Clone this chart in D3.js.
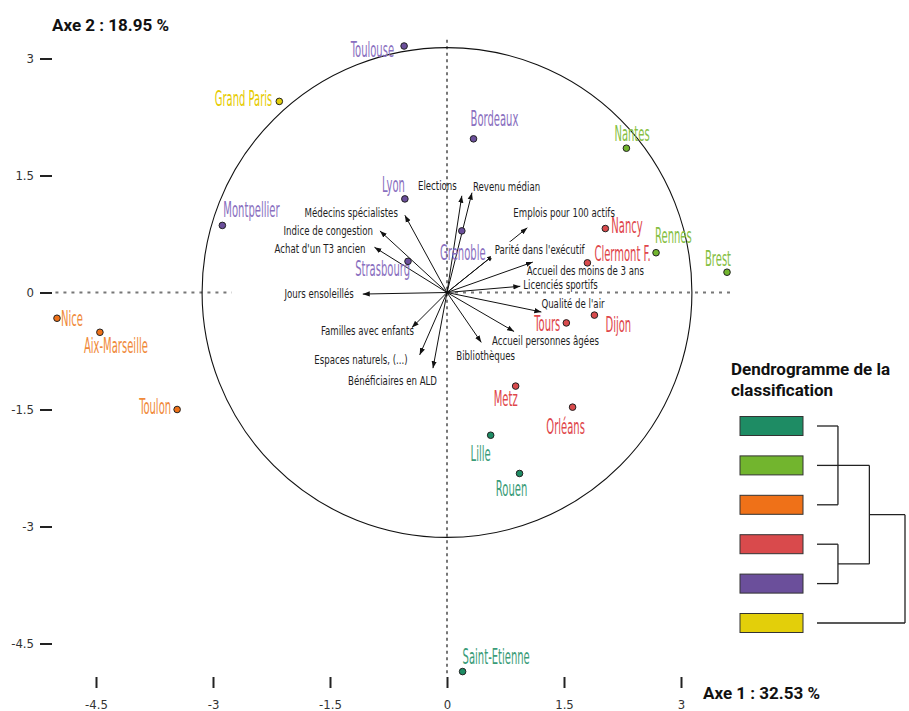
<!DOCTYPE html>
<html>
<head>
<meta charset="utf-8">
<script src="https://cdn.jsdelivr.net/npm/d3@7"></script>
<style>
  body { margin: 0; background: #fff; }
  svg { display: block; }
</style>
</head>
<body>
<svg id="chart" width="909" height="711"></svg>
<script>
// ---- Data -------------------------------------------------------------
// Cities projected on the first factorial plane and their cluster (0..5)
const cityNames = ["Toulouse", "Grand Paris", "Montpellier", "Lyon", "Bordeaux", "Nantes",
  "Nancy", "Rennes", "Clermont F.", "Brest", "Grenoble", "Strasbourg", "Tours", "Dijon",
  "Metz", "Orléans", "Lille", "Rouen", "Saint-Etienne", "Nice", "Aix-Marseille", "Toulon"];
const cityAxis1 = [-0.55, -2.15, -2.88, -0.54, 0.34, 2.30, 2.03, 2.68, 1.80, 3.59, 0.19,
  -0.50, 1.53, 1.89, 0.88, 1.61, 0.56, 0.93, 0.20, -5.00, -4.45, -3.46];
const cityAxis2 = [3.16, 2.45, 0.86, 1.20, 1.97, 1.85, 0.82, 0.51, 0.38, 0.26, 0.79,
  0.40, -0.39, -0.29, -1.20, -1.47, -1.83, -2.32, -4.86, -0.33, -0.51, -1.50];
const cityCluster = [4, 5, 4, 4, 4, 1, 3, 1, 3, 1, 4, 4, 3, 3, 3, 3, 0, 0, 0, 2, 2, 2];

// Active variables (scaled loadings) drawn as arrows
const varNames = ["Elections", "Revenu médian", "Emplois pour 100 actifs", "Parité dans l'exécutif",
  "Accueil des moins de 3 ans", "Licenciés sportifs", "Qualité de l'air", "Accueil personnes âgées",
  "Bibliothèques", "Bénéficiaires en ALD", "Espaces naturels, (...)", "Familles avec enfants",
  "Jours ensoleillés", "Achat d'un T3 ancien", "Indice de congestion", "Médecins spécialistes"];
const varAxis1 = [0.19, 0.32, 1.03, 0.60, 1.10, 0.94, 1.21, 0.86, 0.44, -0.18, -0.35, -0.45,
  -1.08, -0.93, -0.86, -0.54];
const varAxis2 = [1.24, 1.28, 0.83, 0.48, 0.39, 0.08, -0.25, -0.50, -0.64, -0.97, -0.80, -0.45,
  -0.02, 0.58, 0.79, 0.99];

// Correlation circle radius (in axis units)
const circleRadius = 3.14;

// Axis ticks and titles
const axisTicks = [-4.5, -3, -1.5, 0, 1.5, 3];
const axis1Title = "Axe 1 : 32.53 %";
const axis2Title = "Axe 2 : 18.95 %";

// Hierarchical clustering: leaves are the 6 clusters, internal nodes merge them
const dendroTitle = ["Dendrogramme de la", "classification"];
const dendroLeaves = [0, 1, 2, 3, 4, 5];
const dendroMerges = [
  { id: 6, children: [0, 1, 2], height: 1.0 },
  { id: 7, children: [3, 4], height: 1.0 },
  { id: 8, children: [6, 7], height: 2.5 },
  { id: 9, children: [8, 5], height: 4.2 }
];

// ---- Styles -----------------------------------------------------------
const dotColors = ["#1e8c64", "#72b52e", "#ef7118", "#d94a4c", "#6b4f9b", "#e3cf0a"];
const labelColors = ["#3a9c78", "#86c043", "#f08a3a", "#e0464b", "#8a70c0", "#e6cb00"];

// Label placement around each mark: [anchor, dx, dy] in pixels
const cityLabelPos = {
  "Toulouse": ["end", -10, 3], "Grand Paris": ["end", -7, -3], "Montpellier": ["start", 1, -16],
  "Lyon": ["end", 0, -14], "Bordeaux": ["start", -3, -20], "Nantes": ["start", -12, -15],
  "Nancy": ["start", 6, -3], "Rennes": ["start", -1, -17], "Clermont F.": ["start", 7, -9],
  "Brest": ["end", 4, -14], "Grenoble": ["middle", 1, 22], "Strasbourg": ["end", 2, 7],
  "Tours": ["end", -6, 1], "Dijon": ["start", 11, 9], "Metz": ["end", 2, 12],
  "Orléans": ["middle", -7, 19], "Lille": ["end", 0, 18], "Rouen": ["middle", -8, 15],
  "Saint-Etienne": ["start", 0, -15], "Nice": ["start", 4, 0], "Aix-Marseille": ["middle", 16, 13],
  "Toulon": ["end", -6, -3]
};
const varLabelPos = {
  "Elections": ["end", -5, -10], "Revenu médian": ["start", 1, -6],
  "Emplois pour 100 actifs": ["start", -14, -15], "Parité dans l'exécutif": ["start", 1, -5],
  "Accueil des moins de 3 ans": ["start", -6, 9], "Licenciés sportifs": ["start", 3, -1],
  "Qualité de l'air": ["start", 0, -8], "Accueil personnes âgées": ["start", -22, 10],
  "Bibliothèques": ["start", -25, 14], "Bénéficiaires en ALD": ["end", 4, 13],
  "Espaces naturels, (...)": ["end", -12, 5], "Familles avec enfants": ["end", 2, 3],
  "Jours ensoleillés": ["end", -9, 0], "Achat d'un T3 ancien": ["end", -9, 2],
  "Indice de congestion": ["end", -7, 0], "Médecins spécialistes": ["end", -7, -2]
};

const narrowFont = "'DejaVu Sans Condensed', 'Liberation Sans Narrow', sans-serif";
const boldFont = "Roboto, 'Noto Sans', 'DejaVu Sans', sans-serif";

// ---- Scales -----------------------------------------------------------
const svg = d3.select("#chart");
const x = d3.scaleLinear().domain([-4.5, 3]).range([96, 681]);
const y = d3.scaleLinear().domain([-4.5, 3]).range([643.5, 58.5]);
const pxPerUnit = x(1) - x(0);

// ---- Reference lines --------------------------------------------------
const dotted = (x1, y1, x2, y2, dash) => svg.append("line")
  .attr("x1", x(x1)).attr("x2", x(x2))
  .attr("y1", y(y1)).attr("y2", y(y2))
  .attr("stroke", "#777").attr("stroke-width", 2).attr("stroke-dasharray", dash);
dotted(0, 3.24, 0, -4.88, "3,3.5");
dotted(-5.02, 0, -2.76, 0, "3,5");
dotted(0, 0, 3.68, 0, "3,5");

svg.append("circle")
  .attr("cx", x(0)).attr("cy", y(0))
  .attr("r", circleRadius * pxPerUnit)
  .attr("fill", "none").attr("stroke", "#111").attr("stroke-width", 1.1);

// ---- Axes -------------------------------------------------------------
const fmt = d => String(d);
const yAxis = svg.append("g")
  .attr("transform", "translate(52,0)")
  .call(d3.axisLeft(y).tickValues(axisTicks).tickSize(12).tickPadding(6).tickFormat(fmt));
const xAxis = svg.append("g")
  .attr("transform", "translate(0,677)")
  .call(d3.axisBottom(x).tickValues(axisTicks).tickSize(11).tickPadding(12).tickFormat(fmt));
[xAxis, yAxis].forEach(g => {
  g.select(".domain").remove();
  g.selectAll(".tick line").attr("stroke", "#222").attr("stroke-width", 2);
  g.selectAll(".tick text")
    .attr("fill", "#333")
    .style("font-family", "'DejaVu Sans Condensed', 'Liberation Sans Narrow', sans-serif")
    .style("font-size", "13px");
});

svg.append("text")
  .attr("x", 52).attr("y", 31)
  .style("font-family", boldFont).style("font-weight", 700).style("font-size", "17px")
  .attr("fill", "#111").text(axis2Title);
svg.append("text")
  .attr("x", 703).attr("y", 699)
  .style("font-family", boldFont).style("font-weight", 700).style("font-size", "17px")
  .attr("fill", "#111").text(axis1Title);

// ---- Variable arrows --------------------------------------------------
svg.append("defs").append("marker")
  .attr("id", "arrowhead")
  .attr("viewBox", "0 -3 7 6")
  .attr("refX", 7).attr("refY", 0)
  .attr("markerWidth", 7).attr("markerHeight", 6)
  .attr("markerUnits", "userSpaceOnUse")
  .attr("orient", "auto")
  .append("path").attr("d", "M0,-2.6L7,0L0,2.6Z").attr("fill", "#111");

const variables = varNames.map((name, i) => ({ name, a1: varAxis1[i], a2: varAxis2[i] }));

svg.append("g").selectAll("line")
  .data(variables)
  .join("line")
  .attr("x1", x(0)).attr("y1", y(0))
  .attr("x2", d => x(d.a1)).attr("y2", d => y(d.a2))
  .attr("stroke", "#111").attr("stroke-width", 1)
  .attr("marker-end", "url(#arrowhead)");

// Condensed label helper: horizontal compression around the anchor point
function condensedLabel(sel, fontSize, squeeze, weight) {
  sel.each(function (d) {
    const g = d3.select(this);
    g.append("text")
      .attr("transform", `scale(${squeeze},1)`)
      .attr("text-anchor", d.anchor)
      .attr("dominant-baseline", "central")
      .style("font-family", narrowFont)
      .style("font-size", fontSize + "px")
      .style("font-weight", weight)
      .attr("fill", d.color)
      .text(d.name);
  });
}

const varLabels = svg.append("g").selectAll("g")
  .data(variables.map(d => {
    const p = varLabelPos[d.name];
    return { name: d.name, anchor: p[0], px: x(d.a1) + p[1], py: y(d.a2) + p[2], color: "#1e1e1e" };
  }))
  .join("g")
  .attr("transform", d => `translate(${d.px},${d.py})`)
  .call(condensedLabel, 12.5, 0.767, 400);

// White box behind the label that sits across another arrow
varLabels.filter(d => d.name === "Parité dans l'exécutif").each(function () {
  const g = d3.select(this);
  const bb = g.node().getBBox();
  g.insert("rect", "text")
    .attr("x", bb.x - 4).attr("y", bb.y - 1)
    .attr("width", bb.width * 0.767 + 6).attr("height", bb.height + 2)
    .attr("fill", "#fff");
});

// ---- Cities -----------------------------------------------------------
const cities = cityNames.map((name, i) => ({
  name, a1: cityAxis1[i], a2: cityAxis2[i], cluster: cityCluster[i]
}));

svg.append("g").selectAll("g")
  .data(cities.map(d => {
    const p = cityLabelPos[d.name];
    return { name: d.name, anchor: p[0], px: x(d.a1) + p[1], py: y(d.a2) + p[2], color: labelColors[d.cluster] };
  }))
  .join("g")
  .attr("transform", d => `translate(${d.px},${d.py})`)
  .call(condensedLabel, 21, 0.53, 400);

svg.append("g").selectAll("circle")
  .data(cities)
  .join("circle")
  .attr("cx", d => x(d.a1)).attr("cy", d => y(d.a2))
  .attr("r", 3.3)
  .attr("fill", d => dotColors[d.cluster])
  .attr("stroke", "#222").attr("stroke-width", 1);

// ---- Dendrogram -------------------------------------------------------
const dendro = svg.append("g");
dendro.selectAll("text.title")
  .data(dendroTitle)
  .join("text")
  .attr("class", "title")
  .attr("x", 731).attr("y", (d, i) => 375 + i * 21)
  .style("font-family", boldFont).style("font-weight", 700).style("font-size", "17px")
  .attr("fill", "#111").text(d => d);

const leafY = d3.scalePoint().domain(dendroLeaves).range([426, 623]);
const heightX = d3.scaleLinear().domain([0, 4.2]).range([817, 905]);

dendro.selectAll("rect")
  .data(dendroLeaves)
  .join("rect")
  .attr("x", 740).attr("width", 63)
  .attr("y", d => leafY(d) - 9.5).attr("height", 19)
  .attr("fill", d => dotColors[d])
  .attr("stroke", "#333").attr("stroke-width", 1);

// Node positions: leaves at height 0, internal nodes between their extreme children
const nodePos = {};
dendroLeaves.forEach(l => { nodePos[l] = { x: heightX(0), y: leafY(l) }; });
dendroMerges.forEach(m => {
  const ys = m.children.map(c => nodePos[c].y);
  nodePos[m.id] = { x: heightX(m.height), y: (d3.min(ys) + d3.max(ys)) / 2 };
});

const dendroPaths = [];
dendroMerges.forEach(m => {
  const nx = heightX(m.height);
  const ys = m.children.map(c => nodePos[c].y);
  m.children.forEach(c => {
    dendroPaths.push([[nodePos[c].x, nodePos[c].y], [nx, nodePos[c].y]]);
  });
  dendroPaths.push([[nx, d3.min(ys)], [nx, d3.max(ys)]]);
});

dendro.selectAll("path")
  .data(dendroPaths)
  .join("path")
  .attr("d", d => d3.line()(d))
  .attr("fill", "none")
  .attr("stroke", "#222").attr("stroke-width", 1.3);
</script>
</body>
</html>
